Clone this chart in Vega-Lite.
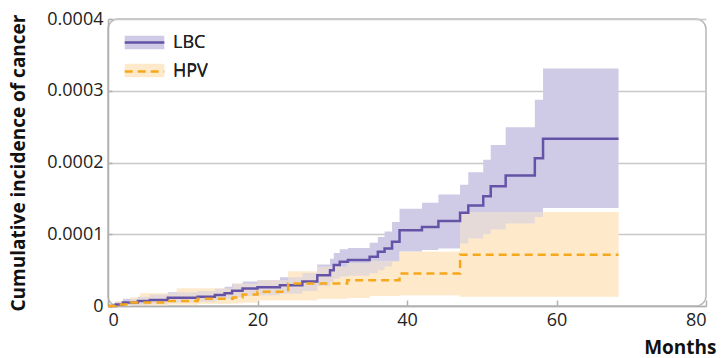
{
  "$schema": "https://vega.github.io/schema/vega-lite/v6.json",
  "width": 598,
  "height": 287,
  "autosize": {"type": "none"},
  "padding": {"left": 108, "top": 19, "right": 15, "bottom": 52},
  "background": "white",
  "config": {
    "font": "Open Sans",
    "view": {"stroke": "#b8b8b8", "strokeWidth": 1.5, "cornerRadius": 10},
    "axis": {
      "labelFont": "Open Sans",
      "labelFontSize": 18,
      "labelColor": "#222222",
      "titleFont": "Open Sans",
      "titleFontWeight": "bold",
      "titleColor": "#111111",
      "titleFontSize": 19,
      "domainColor": "#b0b0b0",
      "domainWidth": 1.5,
      "tickColor": "#b0b0b0",
      "tickWidth": 1.5,
      "gridColor": "#c8c8c8",
      "gridWidth": 1.5
    },
    "legend": {
      "orient": "none",
      "legendX": 26,
      "legendY": 13,
      "labelFont": "Open Sans",
      "labelFontSize": 18,
      "labelColor": "#222222",
      "symbolSize": 324,
      "symbolStrokeWidth": 2.5,
      "labelOffset": 18,
      "padding": 0
    }
  },
  "data": {
    "values": [
      {"series": "LBC", "month": 0, "est": 0, "lo": 0, "hi": 0},
      {"series": "LBC", "month": 1, "est": 0.000002, "lo": 0.0000003, "hi": 0.000006},
      {"series": "LBC", "month": 2, "est": 0.000005, "lo": 0.000001, "hi": 0.00001},
      {"series": "LBC", "month": 4, "est": 0.000007, "lo": 0.000002, "hi": 0.000013},
      {"series": "LBC", "month": 5.6, "est": 0.0000083, "lo": 0.000003, "hi": 0.000016},
      {"series": "LBC", "month": 8, "est": 0.0000115, "lo": 0.000005, "hi": 0.000019},
      {"series": "LBC", "month": 12, "est": 0.000013, "lo": 0.000006, "hi": 0.000021},
      {"series": "LBC", "month": 14.3, "est": 0.0000153, "lo": 0.000008, "hi": 0.000024},
      {"series": "LBC", "month": 15.6, "est": 0.0000176, "lo": 0.00001, "hi": 0.000027},
      {"series": "LBC", "month": 16.6, "est": 0.0000213, "lo": 0.000012, "hi": 0.000031},
      {"series": "LBC", "month": 18, "est": 0.0000245, "lo": 0.000014, "hi": 0.000034},
      {"series": "LBC", "month": 20, "est": 0.000026, "lo": 0.000015, "hi": 0.000036},
      {"series": "LBC", "month": 23, "est": 0.000029, "lo": 0.000017, "hi": 0.00004},
      {"series": "LBC", "month": 26, "est": 0.000034, "lo": 0.000021, "hi": 0.000046},
      {"series": "LBC", "month": 28, "est": 0.000043, "lo": 0.000028, "hi": 0.000058},
      {"series": "LBC", "month": 29.7, "est": 0.00005, "lo": 0.000033, "hi": 0.000066},
      {"series": "LBC", "month": 30.2, "est": 0.000057, "lo": 0.000038, "hi": 0.000074},
      {"series": "LBC", "month": 31, "est": 0.0000616, "lo": 0.000041, "hi": 0.000079},
      {"series": "LBC", "month": 32.1, "est": 0.000064, "lo": 0.000042, "hi": 0.000081},
      {"series": "LBC", "month": 35, "est": 0.0000685, "lo": 0.000046, "hi": 0.000088},
      {"series": "LBC", "month": 36.1, "est": 0.0000755, "lo": 0.00005, "hi": 0.000096},
      {"series": "LBC", "month": 37, "est": 0.00008, "lo": 0.000055, "hi": 0.000104},
      {"series": "LBC", "month": 38, "est": 0.0000894, "lo": 0.000062, "hi": 0.000117},
      {"series": "LBC", "month": 39, "est": 0.0001056, "lo": 0.000076, "hi": 0.0001356},
      {"series": "LBC", "month": 42, "est": 0.00011, "lo": 0.000078, "hi": 0.000144},
      {"series": "LBC", "month": 44.2, "est": 0.0001185, "lo": 0.00008, "hi": 0.0001555},
      {"series": "LBC", "month": 47.1, "est": 0.00013, "lo": 0.000087, "hi": 0.000169},
      {"series": "LBC", "month": 48.2, "est": 0.00014, "lo": 0.000094, "hi": 0.0001865},
      {"series": "LBC", "month": 50.2, "est": 0.000153, "lo": 0.0001, "hi": 0.000204},
      {"series": "LBC", "month": 51.2, "est": 0.000167, "lo": 0.0001065, "hi": 0.0002245},
      {"series": "LBC", "month": 53.2, "est": 0.000182, "lo": 0.000115, "hi": 0.000249},
      {"series": "LBC", "month": 57.1, "est": 0.000206, "lo": 0.000124, "hi": 0.0002875},
      {"series": "LBC", "month": 58.2, "est": 0.000233, "lo": 0.0001366, "hi": 0.000331},
      {"series": "LBC", "month": 68.3, "est": 0.000233, "lo": 0.0001366, "hi": 0.000331},
      {"series": "HPV", "month": 0, "est": 0, "lo": 0, "hi": 0},
      {"series": "HPV", "month": 1, "est": 0.000002, "lo": 0, "hi": 0.000007},
      {"series": "HPV", "month": 3, "est": 0.000005, "lo": 0.000001, "hi": 0.000012},
      {"series": "HPV", "month": 4.3, "est": 0.000005, "lo": 0.000001, "hi": 0.0000176},
      {"series": "HPV", "month": 8, "est": 0.000007, "lo": 0.000002, "hi": 0.0000176},
      {"series": "HPV", "month": 9.2, "est": 0.000007, "lo": 0.000002, "hi": 0.0000245},
      {"series": "HPV", "month": 12, "est": 0.00001, "lo": 0.000003, "hi": 0.0000245},
      {"series": "HPV", "month": 16.7, "est": 0.000012, "lo": 0.000004, "hi": 0.000031},
      {"series": "HPV", "month": 18, "est": 0.000016, "lo": 0.000005, "hi": 0.000031},
      {"series": "HPV", "month": 20, "est": 0.00002, "lo": 0.000008, "hi": 0.000036},
      {"series": "HPV", "month": 24.1, "est": 0.0000315, "lo": 0.000008, "hi": 0.000048},
      {"series": "HPV", "month": 28, "est": 0.0000315, "lo": 0.00001, "hi": 0.000055},
      {"series": "HPV", "month": 32, "est": 0.000036, "lo": 0.000011, "hi": 0.00006},
      {"series": "HPV", "month": 35, "est": 0.000036, "lo": 0.000014, "hi": 0.000063},
      {"series": "HPV", "month": 39, "est": 0.0000454, "lo": 0.000015, "hi": 0.0000755},
      {"series": "HPV", "month": 47.1, "est": 0.0000715, "lo": 0.000013, "hi": 0.000131},
      {"series": "HPV", "month": 68.3, "est": 0.0000715, "lo": 0.000013, "hi": 0.000131}
    ]
  },
  "encoding": {
    "x": {
      "field": "month",
      "type": "quantitative",
      "scale": {"domain": [0, 80], "nice": false, "zero": true},
      "axis": {
        "values": [0, 20, 40, 60, 80],
        "grid": false,
        "tickSize": -6,
        "labelPadding": 11,
        "title": "Months",
        "titleAnchor": "end",
        "titleAlign": "right",
        "titleX": 608,
        "titleY": 47,
        "titleBaseline": "alphabetic"
      }
    }
  },
  "layer": [
    {
      "transform": [{"filter": "datum.series === 'HPV'"}],
      "mark": {"type": "area", "interpolate": "step-after", "opacity": 1},
      "encoding": {
        "y": {
          "field": "lo",
          "type": "quantitative",
          "scale": {"domain": [0, 0.0004], "nice": false},
          "axis": {
            "values": [0, 0.0001, 0.0002, 0.0003, 0.0004],
            "format": ".4~f",
            "grid": true,
            "tickSize": -4,
            "labelPadding": 9,
            "title": "Cumulative incidence of cancer",
            "titleX": -90,
            "titleY": 143.5,
            "titleAngle": -90,
            "titleAlign": "center",
            "titleBaseline": "middle"
          }
        },
        "y2": {"field": "hi"},
        "fill": {
          "field": "series",
          "type": "nominal",
          "sort": ["LBC", "HPV"],
          "scale": {"range": ["#cfcbe6", "#feeacb"]},
          "legend": {
            "title": null,
            "rowPadding": 3,
            "symbolType": "M-2.2,-0.75H2.2V0.75H-2.2Z",
            "symbolStrokeColor": "transparent",
            "symbolStrokeWidth": 2.5
          }
        }
      }
    },
    {
      "transform": [{"filter": "datum.series === 'LBC'"}],
      "mark": {"type": "area", "interpolate": "step-after", "opacity": 1},
      "encoding": {
        "y": {"field": "lo", "type": "quantitative"},
        "y2": {"field": "hi"},
        "fill": {"field": "series", "type": "nominal", "sort": ["LBC", "HPV"]}
      }
    },
    {
      "transform": [{"filter": "datum.series === 'HPV'"}],
      "mark": {"type": "area", "interpolate": "step-after", "color": "#feeacb", "opacity": 0.5},
      "encoding": {
        "y": {"field": "lo", "type": "quantitative"},
        "y2": {"field": "hi"}
      }
    },
    {
      "mark": {"type": "line", "interpolate": "step-after", "strokeWidth": 2.5},
      "encoding": {
        "y": {"field": "est", "type": "quantitative"},
        "stroke": {
          "field": "series",
          "type": "nominal",
          "scale": {"domain": ["LBC", "HPV"], "range": ["#6453a6", "#f5a81c"]},
          "legend": {"title": null, "rowPadding": 9, "symbolType": "M-2.2,0H2.2", "symbolStrokeWidth": 2.5, "symbolFillColor": "transparent"}
        },
        "strokeDash": {
          "field": "series",
          "type": "nominal",
          "scale": {"domain": ["LBC", "HPV"], "range": [[1, 0], [8, 5]]},
          "legend": {"title": null}
        },
        "order": {"field": "month"}
      }
    }
  ]
}
